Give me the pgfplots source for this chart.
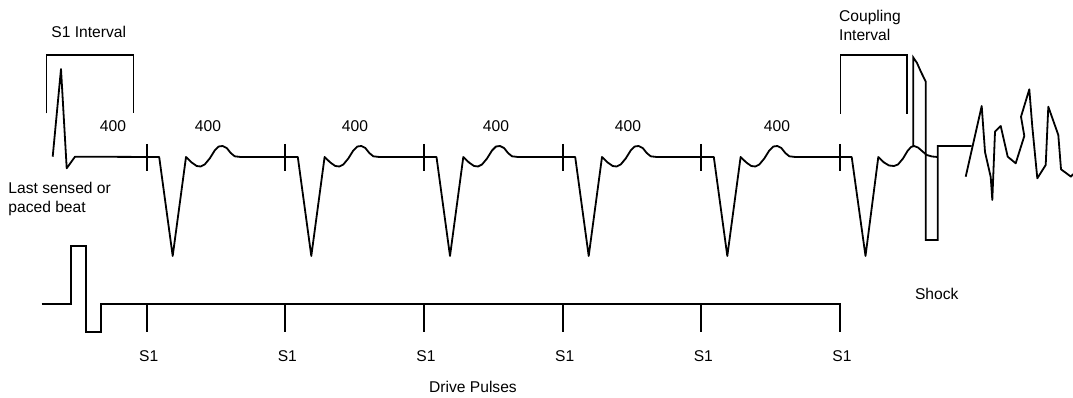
\documentclass[border=0pt]{standalone}
\usepackage{fontspec}
\setmainfont{Liberation Sans}
\usepackage{pgfplots}
\pgfplotsset{compat=1.18}
\begin{document}
\begin{tikzpicture}
\begin{axis}[
  width=1073pt, height=398pt, scale only axis,
  xmin=0, xmax=1073, ymin=0, ymax=398,
  y dir=reverse, hide axis, clip=false,
  w/.style={black, solid, line width=1.8pt, line join=round, mark=none},
  b/.style={black, solid, line width=1.3pt, line join=miter, mark=none},
  nodes={font=\fontsize{15.6}{19}\selectfont, inner sep=0pt},
]
% ECG waveform
\addplot[w] coordinates {
(52.7,156.7) (61,69) (66.7,168.3) (75,156.7)
(159.2,157) (172.7,256) (186,157) (191.7,162.5) (196.7,166) (200.7,166.5) (204.7,164.5) (209.7,158.5) (214.7,150.5) (218.7,146.5) (222.7,146) (226.7,148) (230.7,153) (234.7,156.3) (240.7,157)
(297.8,157) (311.3,256) (324.6,157) (330.3,162.5) (335.3,166) (339.3,166.5) (343.3,164.5) (348.3,158.5) (353.3,150.5) (357.3,146.5) (361.3,146) (365.3,148) (369.3,153) (373.3,156.3) (379.3,157)
(436.5,157) (450,256) (463.3,157) (469,162.5) (474,166) (478,166.5) (482,164.5) (487,158.5) (492,150.5) (496,146.5) (500,146) (504,148) (508,153) (512,156.3) (518,157)
(575.2,157) (588.7,256) (602,157) (607.7,162.5) (612.7,166) (616.7,166.5) (620.7,164.5) (625.7,158.5) (630.7,150.5) (634.7,146.5) (638.7,146) (642.7,148) (646.7,153) (650.7,156.3) (656.7,157)
(713.8,157) (727.3,256) (740.6,157) (746.3,162.5) (751.3,166) (755.3,166.5) (759.3,164.5) (764.3,158.5) (769.3,150.5) (773.3,146.5) (777.3,146) (781.3,148) (785.3,153) (789.3,156.3) (795.3,157)
(851.7,157) (865.5,256) (878.3,157) (884,162.5) (889,165.5) (894,166) (898,164.5) (903,158.5) (907.5,151) (911,147) (914,146) (918,147.5) (922,151) (926.7,155) (932,156.5) (937.7,157)
};
% ticks on the waveform
\addplot[w] coordinates {(146.7,144) (146.7,171)};
\addplot[w] coordinates {(285.3,144) (285.3,171)};
\addplot[w] coordinates {(424,144) (424,171)};
\addplot[w] coordinates {(562.7,144) (562.7,171)};
\addplot[w] coordinates {(701.3,144) (701.3,171)};
\addplot[w] coordinates {(840,144) (840,171)};
% shock
\addplot[w, line join=miter] coordinates {(913.3,146) (913.3,57.5) (917,63) (921,72) (925.7,81.5) (925.7,240) (937.7,240) (937.7,146) (971.7,146)};
% fibrillation
\addplot[w] coordinates {(965.7,176.7) (981.7,106) (985,152) (990.7,177) (992.3,200) (995,131.7) (1000.7,126) (1007.7,156.7) (1015.7,163.3) (1024.3,136) (1021,116.7) (1029.3,89.3) (1032.3,126.7) (1037.3,178.3) (1045.7,165) (1048.3,106.7) (1058.3,135) (1061,169.3) (1071,176.7) (1073,174)};
% drive pulses
\addplot[w, line join=miter] coordinates {(41.7,304) (70.7,304) (70.7,246) (85.7,246) (85.7,332) (100.7,332) (100.7,304) (840,304) (840,331.7)};
\addplot[w] coordinates {(146.7,304) (146.7,331.7)};
\addplot[w] coordinates {(285.3,304) (285.3,331.7)};
\addplot[w] coordinates {(424,304) (424,331.7)};
\addplot[w] coordinates {(562.7,304) (562.7,331.7)};
\addplot[w] coordinates {(701.3,304) (701.3,331.7)};
% brackets
\addplot[b] coordinates {(46.7,113.3) (46.7,55) (133.3,55) (133.3,113.3)};
\addplot[b] coordinates {(840.7,114) (840.7,55) (907,55) (907,114)};
% labels
\node at (axis cs:88.7,32) {S1 Interval};
\node[anchor=west, align=left] at (axis cs:839,25) {Coupling\\Interval};
\node[anchor=west, align=left] at (axis cs:8.3,198.5) {Last sensed or\\paced beat};
\node at (axis cs:113,126.5) {400};
\node at (axis cs:208,126.5) {400};
\node at (axis cs:355,126.5) {400};
\node at (axis cs:496,126.5) {400};
\node at (axis cs:628,126.5) {400};
\node at (axis cs:777,126.5) {400};
\node at (axis cs:936.7,294) {Shock};
\node at (axis cs:148.7,356.5) {S1};
\node at (axis cs:287.3,356.5) {S1};
\node at (axis cs:426,356.5) {S1};
\node at (axis cs:564.7,356.5) {S1};
\node at (axis cs:703.3,356.5) {S1};
\node at (axis cs:842,356.5) {S1};
\node at (axis cs:473,387) {Drive Pulses};
\end{axis}
\pgfresetboundingbox
\path (current axis.south west) rectangle (current axis.north east);
\end{tikzpicture}
\end{document}
